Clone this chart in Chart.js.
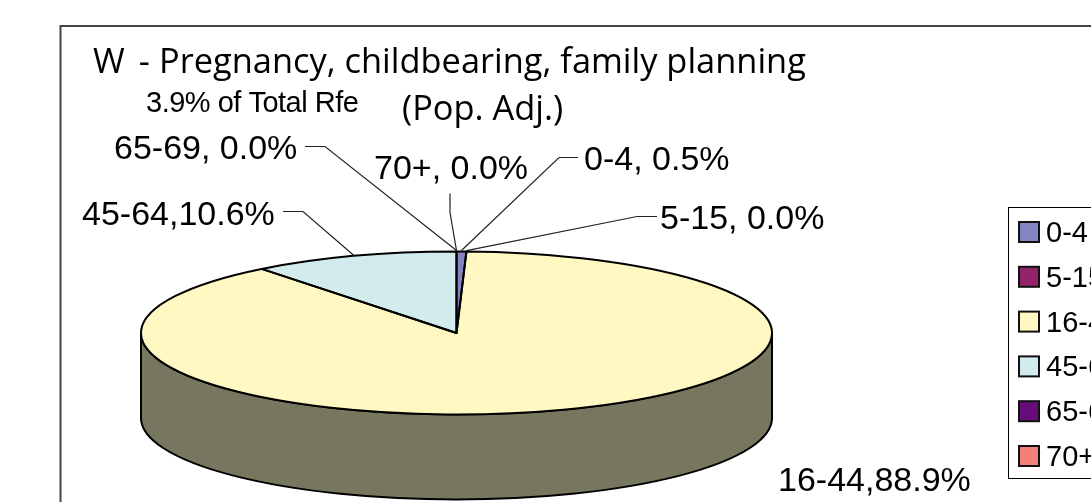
<!DOCTYPE html>
<html>
<head>
<meta charset="utf-8">
<title>W - Pregnancy, childbearing, family planning</title>
<script src="https://cdn.jsdelivr.net/npm/chart.js@4"></script>
<style>
  html, body { margin: 0; padding: 0; background: #fff; overflow: hidden; }
  canvas { display: block; }
</style>
</head>
<body>
<canvas id="pieChart" width="1091" height="502"></canvas>
<script>
// Chart data
const categories = ['0-4', '5-15', '16-44', '45-64', '65-69', '70+'];
const shares = [0.5, 0.0, 88.9, 10.6, 0.0, 0.0];
const sliceColors = ['#8484C0', '#932368', '#FFF8C2', '#D2ECEE', '#660D79', '#F4807A'];
const wallColors = ['#42425F', '#491134', '#77775F', '#696F70', '#33063C', '#7A403D'];
const sliceLabels = ['0-4, 0.5%', '5-15, 0.0%', '16-44,88.9%', '45-64,10.6%', '65-69, 0.0%', '70+, 0.0%'];

// Label placement: text x, baseline y, leader start, leader knee (null = no leader)
const labelX = [584, 660, 778, 82, 114, 374];
const labelY = [170, 229, 491, 225, 159, 179];
const leaderStart = [[578, 157], [657, 216], null, [283, 211], [305, 146], [450, 193]];
const leaderKnee = [[559, 157], [637, 216], null, [303, 211], [325, 146], [450, 212]];

// Pie shape
const PIE_X = 456.5;
const PIE_Y = 333;
const PIE_RADIUS = 315.5;
const TILT = 81.5 / 315.5;
const DEPTH = 85;

// Canvas path helper: path is built squashed, but stroked with an even pen
function squashed(ctx, buildPath) {
  ctx.save();
  ctx.translate(PIE_X, PIE_Y);
  ctx.scale(1, TILT);
  ctx.beginPath();
  buildPath();
  ctx.restore();
}

function drawWall(ctx, arcs) {
  arcs.forEach((arc, i) => {
    const from = Math.max(arc.startAngle, 0);
    const to = Math.min(arc.endAngle, Math.PI);
    if (to <= from) return;
    squashed(ctx, () => {
      ctx.arc(0, 0, PIE_RADIUS, from, to);
      ctx.lineTo(Math.cos(to) * PIE_RADIUS, Math.sin(to) * PIE_RADIUS + DEPTH / TILT);
      ctx.arc(0, DEPTH / TILT, PIE_RADIUS, to, from, true);
      ctx.closePath();
    });
    ctx.fillStyle = wallColors[i];
    ctx.fill();
    ctx.strokeStyle = '#000';
    ctx.lineWidth = 2;
    ctx.stroke();
  });
}

const pie3d = {
  id: 'pie3d',
  beforeDraw(chart) {
    const ctx = chart.ctx;
    ctx.save();
    // Chart frame, runs off the picture on the right and bottom
    ctx.strokeStyle = '#444';
    ctx.lineWidth = 2;
    ctx.beginPath();
    ctx.moveTo(60.5, 502);
    ctx.lineTo(60.5, 26);
    ctx.lineTo(1091, 26);
    ctx.stroke();
    ctx.restore();
  },
  beforeDatasetDraw(chart) {
    const ctx = chart.ctx;
    drawWall(ctx, chart.getDatasetMeta(0).data);
    // Squash the circular pie into an ellipse
    ctx.save();
    ctx.translate(PIE_X, PIE_Y);
    ctx.scale(1, TILT);
    ctx.translate(-PIE_X, -PIE_Y);
  },
  afterDatasetDraw(chart) {
    const ctx = chart.ctx;
    ctx.restore();
    const arcs = chart.getDatasetMeta(0).data;
    ctx.save();
    ctx.strokeStyle = '#000';
    ctx.lineWidth = 2;
    ctx.lineJoin = 'round';
    arcs.forEach(arc => {
      if (arc.circumference === 0) return;
      squashed(ctx, () => {
        ctx.moveTo(0, 0);
        ctx.arc(0, 0, PIE_RADIUS, arc.startAngle, arc.endAngle);
        ctx.closePath();
      });
      ctx.stroke();
    });
    ctx.restore();
  },
  afterDraw(chart) {
    const ctx = chart.ctx;
    const arcs = chart.getDatasetMeta(0).data;
    ctx.save();

    // Leader lines go to the middle of each slice's rim
    ctx.strokeStyle = '#222';
    ctx.lineWidth = 1.2;
    arcs.forEach((arc, i) => {
      if (!leaderStart[i]) return;
      const mid = (arc.startAngle + arc.endAngle) / 2;
      ctx.beginPath();
      ctx.moveTo(leaderStart[i][0], leaderStart[i][1] + 0.5);
      ctx.lineTo(leaderKnee[i][0], leaderKnee[i][1] + 0.5);
      ctx.lineTo(PIE_X + Math.cos(mid) * PIE_RADIUS, PIE_Y + Math.sin(mid) * PIE_RADIUS * TILT - 1);
      ctx.stroke();
    });

    // Slice labels
    ctx.fillStyle = '#000';
    ctx.textAlign = 'left';
    ctx.textBaseline = 'alphabetic';
    ctx.font = '34px "Liberation Sans"';
    sliceLabels.forEach((text, i) => ctx.fillText(text, labelX[i], labelY[i]));

    // Titles
    ctx.font = '34.4px "Open Sans"';
    ctx.wordSpacing = '5px';
    ctx.fillText('W -', 93, 73);
    ctx.wordSpacing = '0px';
    ctx.fillText('Pregnancy, childbearing, family planning', 159, 73);
    ctx.fillText('(Pop. Adj.)', 402, 120);
    ctx.font = '29px "Liberation Sans"';
    ctx.letterSpacing = '-0.5px';
    ctx.fillText('3.9% of Total Rfe', 146, 112);
    ctx.letterSpacing = '0px';

    // Legend, cut off by the right edge of the picture
    ctx.strokeStyle = '#000';
    ctx.lineWidth = 1;
    ctx.strokeRect(1008.5, 207.5, 200, 271);
    ctx.font = '29px "Liberation Sans"';
    categories.forEach((name, i) => {
      const rowY = 222 + i * 44.8;
      ctx.fillStyle = sliceColors[i];
      ctx.fillRect(1019, rowY, 20, 20);
      ctx.strokeStyle = '#111';
      ctx.lineWidth = 2;
      ctx.strokeRect(1019, rowY, 20, 20);
      ctx.fillStyle = '#000';
      ctx.fillText(name, 1046, rowY + 20);
    });
    ctx.restore();
  }
};

new Chart(document.getElementById('pieChart'), {
  type: 'pie',
  data: {
    labels: categories,
    datasets: [{
      data: shares,
      backgroundColor: sliceColors,
      borderWidth: 0,
      clip: false
    }]
  },
  options: {
    responsive: false,
    animation: false,
    radius: PIE_RADIUS,
    // Keeps the chart area centred on the pie
    layout: { padding: { left: 0, right: 1091 - 2 * PIE_X, top: 2 * PIE_Y - 502, bottom: 0 } },
    plugins: {
      legend: { display: false },
      tooltip: { enabled: false }
    }
  },
  plugins: [pie3d]
});
</script>
</body>
</html>
